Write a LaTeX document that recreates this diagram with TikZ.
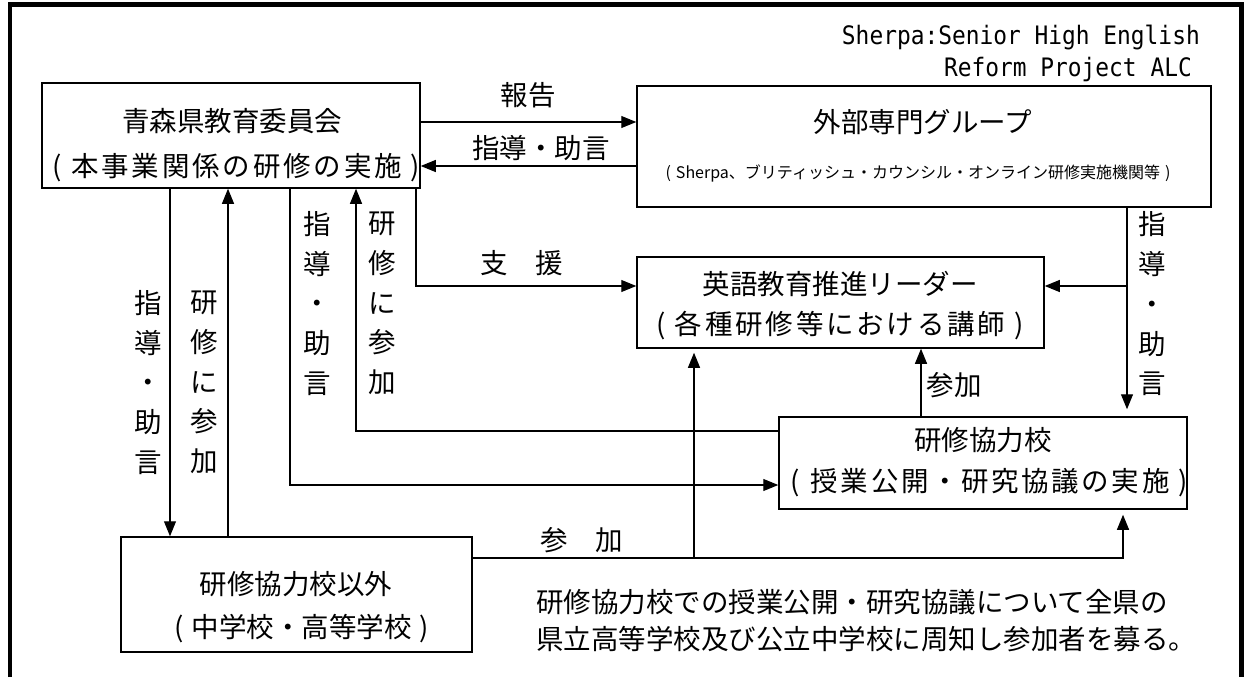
\documentclass[tikz,border=0pt]{standalone}
\usepackage{fontspec}
\setmainfont{Noto Sans CJK JP}
\newfontfamily\hdrfont[FakeStretch=0.9]{DejaVu Sans Mono}
\usetikzlibrary{arrows.meta}
\def\spamt{0pt}
\def\spacedtext#1#2{\def\spamt{#1}\spacedloop#2\relax}
\def\spacedloop#1{\ifx\relax#1\else#1\kern\spamt\relax\expandafter\spacedloop\fi}
\begin{document}
\begin{tikzpicture}[x=1pt,y=-1pt,
  box/.style={draw,line width=1.5pt,inner sep=0pt},
  conn/.style={line width=1.1pt},
  arr/.style={conn,-{Triangle[length=15pt,width=12pt]}},
  jp/.style={inner sep=0pt,font=\fontsize{27.5}{33}\selectfont,text height=24pt,text depth=3.5pt},
  jpsmall/.style={inner sep=0pt,font=\fontsize{16}{20}\selectfont,text height=14pt,text depth=2pt},
  vlab/.style={inner sep=0pt,align=center,font=\fontsize{27.5}{39.75}\selectfont},
  hdr/.style={inner sep=0pt,anchor=base east,font=\hdrfont\fontsize{25.4}{31}\selectfont},
  frame/.style={line width=4.5pt,line join=miter}]
\fill[white] (0,0) rectangle (1246,677);
\useasboundingbox (0,0) rectangle (1246,677);
\draw[frame] (10,677) -- (10,4.5) -- (1241.5,4.5) -- (1241.5,677);

% header
\node[hdr] (h1) at (1200,45) {Sherpa:Senior High English};
\node[hdr] (h2) at (1192,77) {Reform Project ALC};

% boxes
\node[box,minimum width=378pt,minimum height=105pt] (A) at (231,135.5) {};
\node[box,minimum width=574pt,minimum height=121pt] (B) at (924,146.5) {};
\node[box,minimum width=407pt,minimum height=91pt] (C) at (840.5,302.5) {};
\node[box,minimum width=408pt,minimum height=92pt] (D) at (983,463) {};
\node[box,minimum width=351pt,minimum height=115pt] (E) at (296.5,594.5) {};

% box texts
\node[jp] (At1) at (232,121) {青森県教育委員会};
\node[jp] (At2) at (236,166) {(\hspace{10pt}\spacedtext{2.8pt}{本事業関係の研修の実施}\hspace{6pt})};
\node[jp] (Bt1) at (923,122) {外部専門グループ};
\node[jpsmall] (Bt2) at (918,172) {(\hspace{5pt}Sherpa、ブリティッシュ・カウンシル・オンライン研修実施機関等\hspace{5pt})};
\node[jp] (Ct1) at (840,284.5) {英語教育推進リーダー};
\node[jp] (Ct2) at (840,324) {(\hspace{9pt}\spacedtext{2.8pt}{各種研修等における講師}\hspace{6pt})};
\node[jp] (Dt1) at (983,440) {研修協力校};
\node[jp] (Dt2) at (989,481) {(\hspace{11pt}\spacedtext{2.6pt}{授業公開・研究協議の実施}\hspace{6pt})};
\node[jp] (Et1) at (296,584) {研修協力校以外};
\node[jp] (Et2) at (302,627) {(\hspace{8pt}中学校・高等学校\hspace{8pt})};

% x / y guide coordinates
\coordinate (xAE) at (170,0);
\coordinate (xEA) at (228,0);
\coordinate (xAD) at (290,0);
\coordinate (xDA) at (356,0);
\coordinate (xAC) at (416,0);
\coordinate (xEC) at (694,0);
\coordinate (xDC) at (921,0);
\coordinate (xED) at (1123,0);
\coordinate (xBD) at (1127,0);
\coordinate (yAB) at (0,122);
\coordinate (yBA) at (0,166);
\coordinate (yC) at (0,286);
\coordinate (yDA) at (0,431);
\coordinate (yAD) at (0,485);
\coordinate (yE) at (0,558);

% connectors
\draw[arr] (A.east |- yAB) -- (B.west |- yAB);
\draw[arr] (B.west |- yBA) -- (A.east |- yBA);
\draw[arr] (A.south -| xAE) -- (E.north -| xAE);
\draw[arr] (E.north -| xEA) -- (A.south -| xEA);
\draw[arr] (A.south -| xAD) |- (D.west |- yAD);
\draw[arr] (D.west |- yDA) -| (A.south -| xDA);
\draw[arr] (A.south -| xAC) |- (C.west |- yC);
\draw[arr,shorten >=7pt] (B.south -| xBD) -- (D.north -| xBD);
\coordinate (jB) at (xBD |- yC);
\draw[arr] (jB) -- (C.east |- yC);
\draw[arr] (D.north -| xDC) -- (C.south -| xDC);
\draw[arr,shorten >=5pt] (E.east |- yE) -| (D.south -| xED);
\coordinate (jE) at (xEC |- yE);
\draw[arr,shorten >=4pt] (jE) -- (C.south -| xEC);

% labels
\node[jp] (lAB) at (528,95) {報告};
\node[jp] (lBA) at (541,148) {指導・助言};
\node[jp] (lAC) at (522,263) {支　援};
\node[jp] (lDC) at (954,385) {参加};
\node[jp] (lED) at (582,540) {参　加};
\node[vlab] (lAE) at (148,382.5) {指\\導\\・\\助\\言};
\node[vlab] (lEA) at (204,382.5) {研\\修\\に\\参\\加};
\node[vlab] (lAD) at (317,303.5) {指\\導\\・\\助\\言};
\node[vlab] (lDA) at (382,303.5) {研\\修\\に\\参\\加};
\node[vlab] (lBD) at (1152,304) {指\\導\\・\\助\\言};

% note
\node[inner sep=0pt,anchor=west,align=left,font=\fontsize{27.5}{37.5}\selectfont] (note) at (536,620.5) {研修協力校での授業公開・研究協議について全県の\\県立高等学校及び公立中学校に周知し参加者を募る。};
\end{tikzpicture}
\end{document}
